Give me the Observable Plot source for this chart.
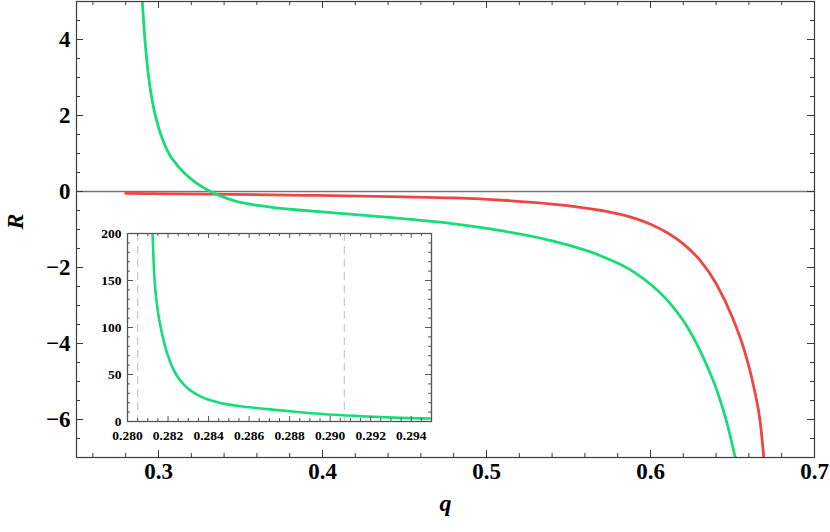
<!DOCTYPE html>
<html><head><meta charset="utf-8">
<script src="https://cdn.jsdelivr.net/npm/d3@7"></script>
<script src="https://cdn.jsdelivr.net/npm/@observablehq/plot@0.6"></script>
<style>
body{margin:0;background:#fff;}
#wrap{position:relative;width:830px;height:532px;}
#inset{position:absolute;left:86px;top:225px;}
</style></head><body><div id="wrap"><div id="main"></div><div id="inset"></div></div>
<script>
// main panel data
const redQ = [0.28, 0.33, 0.39, 0.45, 0.48, 0.51, 0.54, 0.57, 0.59, 0.60, 0.61, 0.62, 0.63, 0.64, 0.65, 0.657, 0.663, 0.667, 0.6693];
const redR = [-0.05, -0.07, -0.10, -0.14, -0.17, -0.23, -0.33, -0.50, -0.70, -0.86, -1.08, -1.38, -1.80, -2.42, -3.32, -4.15, -5.15, -6.1, -7.1];
const greenQ = [0.29006, 0.29146, 0.29329, 0.29616, 0.30079, 0.30530, 0.31238, 0.3213, 0.3317, 0.3459, 0.3663, 0.4069, 0.4476, 0.478, 0.5085, 0.539, 0.5695, 0.590, 0.6102, 0.6224, 0.6325, 0.6407, 0.6467, 0.6522];
const greenR = [5.03, 4.14, 3.27, 2.39, 1.58, 1.08, 0.64, 0.28, 0.0, -0.24, -0.40, -0.56, -0.71, -0.84, -1.03, -1.29, -1.69, -2.12, -2.86, -3.56, -4.40, -5.26, -6.10, -7.1];
// inset data
const insetQ = [0.28123, 0.28131, 0.28148, 0.28164, 0.28178, 0.28213, 0.28240, 0.28279, 0.28362, 0.28444, 0.2853, 0.2869, 0.28854, 0.29018, 0.29183, 0.29347, 0.29495];
const insetR = [202, 160, 120, 100, 86, 62, 50, 39, 26.5, 20.5, 17, 13.2, 9.9, 7.1, 5.3, 3.9, 3.2];
const insetDashed = [0.2805, 0.2907];
// tick labels
const xMajor = [0.3, 0.4, 0.5, 0.6, 0.7];
const yMajor = [-6, -4, -2, 0, 2, 4];
const insetXMajor = [0.280, 0.282, 0.284, 0.286, 0.288, 0.290, 0.292, 0.294];
const insetYMajor = [0, 50, 100, 150, 200];

const red = redQ.map((q,i)=>({q, R: redR[i]}));
const green = greenQ.map((q,i)=>({q, R: greenR[i]}));
const ins = insetQ.map((q,i)=>({q, R: insetR[i]}));

const fmtNum = d => d < 0 ? "\u2212" + (-d) : String(d);
const serif = "Liberation Serif";
const txt = {fontFamily:serif, fontWeight:"bold", fill:"#000"};

// ---------- main ----------
const W=830, H=532, mL=76, mR=16, mT=1, mB=75;
const xDom=[0.25,0.7], yDom=[-7,5];
const kx=(W-mL-mR)/(xDom[1]-xDom[0]), ky=(H-mT-mB)/(yDom[1]-yDom[0]);
const xMinor = d3.range(13,35).map(i=>i*0.02).filter(v=>Math.abs(v*10-Math.round(v*10))>1e-6);
const yMinor = d3.range(-14,10).map(i=>i*0.5).filter(v=>v%2!==0);
const frameC="#3a3a3a";
const tickMarks = (maj, mino, xd, yd, kx, ky, Lmaj, Lmin, c) => [
  Plot.ruleX(maj,{y1:yd[0], y2:yd[0]+Lmaj/ky, stroke:c}),
  Plot.ruleX(maj,{y1:yd[1], y2:yd[1]-Lmaj/ky, stroke:c}),
  Plot.ruleX(mino,{y1:yd[0], y2:yd[0]+Lmin/ky, stroke:c}),
  Plot.ruleX(mino,{y1:yd[1], y2:yd[1]-Lmin/ky, stroke:c})
];
const tickMarksY = (maj, mino, xd, kx, Lmaj, Lmin, c) => [
  Plot.ruleY(maj,{x1:xd[0], x2:xd[0]+Lmaj/kx, stroke:c}),
  Plot.ruleY(maj,{x1:xd[1], x2:xd[1]-Lmaj/kx, stroke:c}),
  Plot.ruleY(mino,{x1:xd[0], x2:xd[0]+Lmin/kx, stroke:c}),
  Plot.ruleY(mino,{x1:xd[1], x2:xd[1]-Lmin/kx, stroke:c})
];

const main = Plot.plot({
  width:W, height:H, marginLeft:mL, marginRight:mR, marginTop:mT, marginBottom:mB,
  x:{domain:xDom, axis:null}, y:{domain:yDom, axis:null},
  style:{background:"transparent", fontFamily:serif},
  marks:[
    Plot.ruleY([0],{stroke:"#777", strokeWidth:1.3}),
    Plot.line(red,{x:"q", y:"R", stroke:"#f04545", strokeWidth:2.8, curve:"monotone-x", clip:true}),
    Plot.line(green,{x:"q", y:"R", stroke:"#17dc7a", strokeWidth:2.8, curve:"monotone-x", clip:true}),
    ...tickMarks(xMajor, xMinor, xDom, yDom, kx, ky, 7, 4, frameC),
    ...tickMarksY(yMajor, yMinor, xDom, kx, 7, 4, frameC),
    Plot.frame({stroke:frameC, strokeWidth:1.2}),
    Plot.text(xMajor,{x:d=>d, frameAnchor:"bottom", dy:21, text:d=>d.toFixed(1), fontSize:23, ...txt}),
    Plot.text(yMajor,{y:d=>d, frameAnchor:"left", dx:-6, textAnchor:"end", text:fmtNum, fontSize:23, ...txt}),
    Plot.text(["q"],{frameAnchor:"bottom", dy:53, text:d=>d, fontSize:24, fontStyle:"italic", ...txt}),
    Plot.text(["R"],{frameAnchor:"left", dx:-61, rotate:-90, text:d=>d, fontSize:24, fontStyle:"italic", ...txt})
  ]
});
document.getElementById("main").appendChild(main);

// ---------- inset ----------
const IW=352, IH=225, imL=41, imR=7, imT=8, imB=29;
const ixDom=[0.28,0.295], iyDom=[0,200];
const ikx=(IW-imL-imR)/(ixDom[1]-ixDom[0]), iky=(IH-imT-imB)/(iyDom[1]-iyDom[0]);
const ixMinor = d3.range(0,31).map(i=>0.28+i*0.0005).filter((v,i)=>i%4!==0);
const iyMinor = d3.range(0,21).map(i=>i*10).filter(v=>v%50!==0);
const iframeC="#555";
const inset = Plot.plot({
  width:IW, height:IH, marginLeft:imL, marginRight:imR, marginTop:imT, marginBottom:imB,
  x:{domain:ixDom, axis:null}, y:{domain:iyDom, axis:null},
  style:{background:"transparent", fontFamily:serif},
  marks:[
    Plot.ruleX(insetDashed,{stroke:"#c8c8c8", strokeWidth:1.2, strokeDasharray:"8,5"}),
    Plot.line(ins,{x:"q", y:"R", stroke:"#17dc7a", strokeWidth:2.6, curve:"monotone-x", clip:true}),
    ...tickMarks(insetXMajor, ixMinor, ixDom, iyDom, ikx, iky, 5, 3, iframeC),
    ...tickMarksY(insetYMajor, iyMinor, ixDom, ikx, 6, 3, iframeC),
    Plot.frame({stroke:iframeC, strokeWidth:1.3}),
    Plot.text(insetXMajor,{x:d=>d, frameAnchor:"bottom", dy:18, text:d=>d.toFixed(3), fontSize:13.5, ...txt}),
    Plot.text(insetYMajor,{y:d=>d, frameAnchor:"left", dx:-6, textAnchor:"end", text:d=>String(d), fontSize:13.5, ...txt})
  ]
});
document.getElementById("inset").appendChild(inset);
</script></body></html>
